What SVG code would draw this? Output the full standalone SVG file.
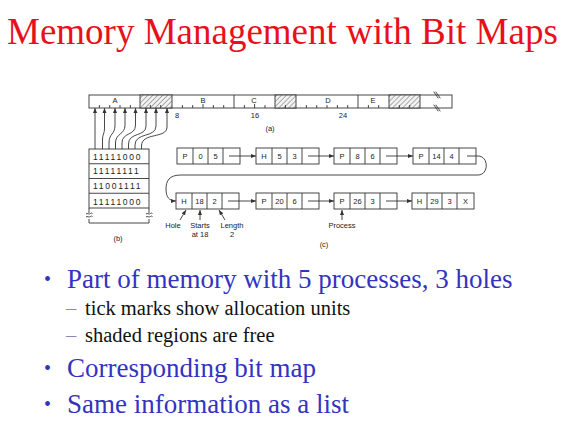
<svg xmlns="http://www.w3.org/2000/svg" width="573" height="426" viewBox="0 0 573 426">
<style>
.title{font-family:"Liberation Serif","Times New Roman",serif;font-size:37px;fill:#e8101a}
.b1{font-family:"Liberation Serif","Times New Roman",serif;font-size:27px;fill:#3333c0}
.b2{font-family:"Liberation Serif","Times New Roman",serif;font-size:20.5px;fill:#111}
.dash{font-family:"Liberation Serif","Times New Roman",serif;font-size:20.5px;fill:#8a8ab8}
.dot{font-family:"Liberation Serif","Times New Roman",serif;font-size:20px;fill:#3333c0}
.t{font-family:"Liberation Sans",Arial,sans-serif;font-size:7.5px;fill:#222;text-anchor:middle}
.bits{font-family:"Liberation Sans",Arial,sans-serif;font-size:8.5px;fill:#222;letter-spacing:1.75px}
.ln{fill:none;stroke:#333;stroke-width:0.9}
.cell{fill:#fff;stroke:#333;stroke-width:0.9}
.arr{fill:none;stroke:#333;stroke-width:0.9;marker-end:url(#ah)}
</style>
<defs>
<marker id="ah" viewBox="0 0 10 10" refX="10" refY="5" markerWidth="5" markerHeight="5" orient="auto" markerUnits="userSpaceOnUse">
<path d="M0,1 L10,5 L0,9 Z" fill="#333"/>
</marker>
<pattern id="hatch" width="3.5" height="3.5" patternUnits="userSpaceOnUse" patternTransform="rotate(45)">
<rect width="3.5" height="3.5" fill="#f2f2f2"/>
<line x1="0" y1="0" x2="0" y2="3.5" stroke="#555" stroke-width="0.9"/>
</pattern>
</defs>
<rect width="573" height="426" fill="#fff"/>

<text class="title" x="7" y="44">Memory Management with Bit Maps</text>

<!-- (a) memory bar -->
<g id="memory">
<rect x="89" y="95" width="363" height="13" class="cell"/>
<rect x="140" y="95" width="32" height="13" fill="url(#hatch)" stroke="#333" stroke-width="0.9"/>
<rect x="275" y="95" width="21" height="13" fill="url(#hatch)" stroke="#333" stroke-width="0.9"/>
<rect x="389" y="95" width="31" height="13" fill="url(#hatch)" stroke="#333" stroke-width="0.9"/>
<path class="ln" d="M234,95V108 M358,95V108"/>
<path class="ln" d="M99.4,108v-3 M109.7,108v-3 M120,108v-3 M130.4,108v-3 M150.4,108v-3 M160.7,108v-3 M182.4,108v-3 M192.7,108v-3 M203,108v-4 M213.4,108v-3 M223.7,108v-3 M244.4,108v-3 M254.6,108v-4 M265,108v-3 M285.4,108v-3 M306.4,108v-3 M316.7,108v-3 M327,108v-3 M337.4,108v-3 M347.7,108v-3 M368.4,108v-3 M378.7,108v-3 M399.4,108v-3 M409.7,108v-3"/>
<rect x="432" y="92" width="7" height="19" fill="#fff"/>
<path class="ln" d="M432,95H439 M432,108H439"/>
<path class="ln" d="M433.5,92c2,0 1,3 2.5,3 c1.5,0 0.5,3 2.5,3 M435.5,92c2,0 1,3 2.5,3 c1.5,0 0.5,3 2.5,3"/>
<path class="ln" d="M433.5,105c2,0 1,3 2.5,3 c1.5,0 0.5,3 2.5,3 M435.5,105c2,0 1,3 2.5,3 c1.5,0 0.5,3 2.5,3"/>
<text class="t" x="115" y="103">A</text>
<text class="t" x="203" y="103">B</text>
<text class="t" x="254" y="103">C</text>
<text class="t" x="328" y="103">D</text>
<text class="t" x="373" y="103">E</text>
<text class="t" x="177" y="118">8</text>
<text class="t" x="255" y="118">16</text>
<text class="t" x="343" y="118">24</text>
<text class="t" x="270" y="131">(a)</text>
</g>

<!-- (b) bit map -->
<g id="bitmap">
<rect x="89" y="149" width="60" height="59" class="cell"/>
<path class="ln" d="M89,163.75H149 M89,178.5H149 M89,193.25H149"/>
<path class="ln" d="M89,208V213 M89,219V223 M149,208V213 M149,219V223 M89,223H149"/>
<path class="ln" d="M86,214c1.5,-1.5 3,1 4.5,-0.5 c1,-1 1.5,0 2,0 M86,217c1.5,-1.5 3,1 4.5,-0.5 c1,-1 1.5,0 2,0"/>
<path class="ln" d="M146,214c1.5,-1.5 3,1 4.5,-0.5 c1,-1 1.5,0 2,0 M146,217c1.5,-1.5 3,1 4.5,-0.5 c1,-1 1.5,0 2,0"/>
<text class="bits" x="93" y="159.5">11111000</text>
<text class="bits" x="93" y="174.2">11111111</text>
<text class="bits" x="93" y="189">11001111</text>
<text class="bits" x="93" y="204.5">11111000</text>
<text class="t" x="118" y="241">(b)</text>
</g>

<!-- (c) list -->
<g id="n1">
<rect x="177" y="148" width="63" height="16" class="cell"/>
<path class="ln" d="M193,148V164 M208,148V164 M223,148V164"/>
<text class="t" x="185" y="159">P</text><text class="t" x="200.5" y="159">0</text><text class="t" x="215.5" y="159">5</text>
</g>
<g id="n2">
<rect x="256" y="148" width="63" height="16" class="cell"/>
<path class="ln" d="M272,148V164 M287,148V164 M302,148V164"/>
<text class="t" x="264" y="159">H</text><text class="t" x="279.5" y="159">5</text><text class="t" x="294.5" y="159">3</text>
</g>
<g id="n3">
<rect x="334" y="148" width="63" height="16" class="cell"/>
<path class="ln" d="M350,148V164 M365,148V164 M380,148V164"/>
<text class="t" x="342" y="159">P</text><text class="t" x="357.5" y="159">8</text><text class="t" x="372.5" y="159">6</text>
</g>
<g id="n4">
<rect x="413" y="148" width="63" height="16" class="cell"/>
<path class="ln" d="M429,148V164 M444,148V164 M459,148V164"/>
<text class="t" x="421" y="159">P</text><text class="t" x="436.5" y="159">14</text><text class="t" x="451.5" y="159">4</text>
</g>
<g id="n5">
<rect x="176" y="193" width="63" height="16" class="cell"/>
<path class="ln" d="M192,193V209 M207,193V209 M222,193V209"/>
<text class="t" x="184" y="204">H</text><text class="t" x="199.5" y="204">18</text><text class="t" x="214.5" y="204">2</text>
</g>
<g id="n6">
<rect x="256" y="193" width="63" height="16" class="cell"/>
<path class="ln" d="M272,193V209 M287,193V209 M302,193V209"/>
<text class="t" x="264" y="204">P</text><text class="t" x="279.5" y="204">20</text><text class="t" x="294.5" y="204">6</text>
</g>
<g id="n7">
<rect x="334" y="193" width="63" height="16" class="cell"/>
<path class="ln" d="M350,193V209 M365,193V209 M380,193V209"/>
<text class="t" x="342" y="204">P</text><text class="t" x="357.5" y="204">26</text><text class="t" x="372.5" y="204">3</text>
</g>
<g id="n8">
<rect x="412" y="193" width="62" height="16" class="cell"/>
<path class="ln" d="M427,193V209 M442,193V209 M457,193V209"/>
<text class="t" x="419.5" y="204">H</text><text class="t" x="434.5" y="204">29</text><text class="t" x="449.5" y="204">3</text><text class="t" x="465.5" y="204">X</text>
</g>

<g id="labels">
<text class="t" x="173" y="228">Hole</text>
<text class="t" x="200" y="228">Starts</text>
<text class="t" x="200" y="237">at 18</text>
<text class="t" x="232" y="228">Length</text>
<text class="t" x="232" y="237">2</text>
<text class="t" x="342" y="228">Process</text>
<text class="t" x="324" y="247">(c)</text>
</g>

<g id="connectors">
<!-- bitmap to memory -->
<path class="arr" d="M95,149V108"/>
<path class="arr" d="M102.5,149V140C102.5,134 104.5,134 104.5,128V108"/>
<path class="arr" d="M109,149V143C109,133 115,135 115,125V108"/>
<path class="arr" d="M115.5,149V143C115.5,133 125,135 125,125V108"/>
<path class="arr" d="M122,149V143C122,132 135.5,136 135.5,125V108"/>
<path class="arr" d="M128.5,149V144C128.5,132 146,137 146,126V108"/>
<path class="arr" d="M135,149V145C135,132 156,138 156,126V108"/>
<path class="arr" d="M141.5,149V146C141.5,132 167,139 167,127V108"/>
<!-- list links -->
<path class="arr" d="M229,156H256"/>
<path class="arr" d="M308,156H334"/>
<path class="arr" d="M386,156H413"/>
<path class="ln" d="M467,156H478C489,156 489,175 478,175H181C169,175 166,181 166,189"/>
<path class="arr" d="M166,189C166,197 169,201 176,201"/>
<path class="arr" d="M228,201H256"/>
<path class="arr" d="M308,201H334"/>
<path class="arr" d="M386,201H412"/>
<!-- annotation arrows -->
<path class="arr" d="M180,220L186,210"/>
<path class="arr" d="M200,220V210"/>
<path class="arr" d="M225,220L219,210"/>
<path class="arr" d="M342,220V210"/>
</g>

<g id="bullets">
<text class="dot" x="44" y="286">•</text>
<text class="b1" x="67" y="288">Part of memory with 5 processes, 3 holes</text>
<text class="dash" x="66" y="315">–</text>
<text class="b2" x="85" y="315">tick marks show allocation units</text>
<text class="dash" x="66" y="342">–</text>
<text class="b2" x="85" y="342">shaded regions are free</text>
<text class="dot" x="44" y="375">•</text>
<text class="b1" x="67" y="377">Corresponding bit map</text>
<text class="dot" x="44" y="411">•</text>
<text class="b1" x="67" y="413">Same information as a list</text>
</g>
</svg>
